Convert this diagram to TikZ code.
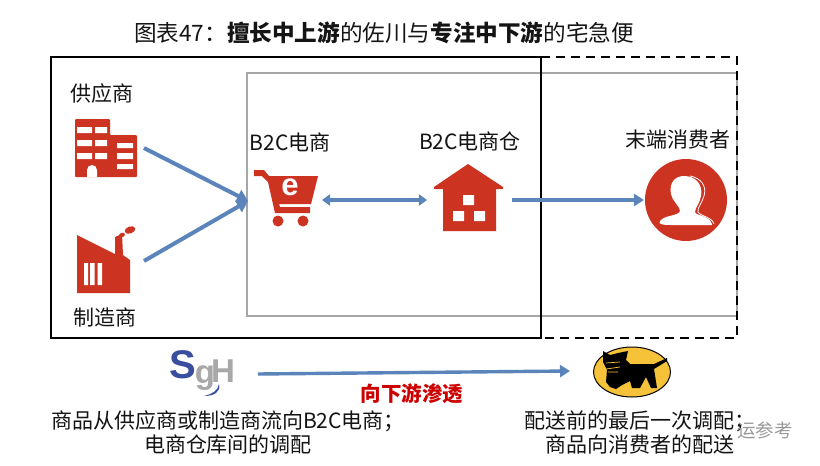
\documentclass[tikz,border=0pt]{standalone}
\usepackage{fontspec}
\setmainfont{Noto Sans CJK SC}
\newfontfamily\latinf{Liberation Sans}
\usetikzlibrary{arrows.meta}
\definecolor{iconred}{HTML}{CC3320}
\definecolor{flow}{HTML}{5B84BA}
\definecolor{sgblue}{HTML}{3A4EA0}
\definecolor{sggray}{HTML}{A8A8A8}
\definecolor{catyellow}{HTML}{F5C23A}
\tikzset{
  x=1pt,y=-1pt,
  lab/.style={font=\fontsize{21}{24}\selectfont,text=black!92,inner sep=0pt,align=center},
  flowarrow/.style={draw=flow,line width=4pt,-{Triangle[length=11pt,width=13pt]}},
}
\begin{document}
\begin{tikzpicture}
\useasboundingbox (0,0) rectangle (820,466);
\fill[white] (0,0) rectangle (820,466);
% frames
\draw[black!35,line width=1.5pt] (247,73) rectangle (737,316);
\draw[black,line width=1.8pt,dash pattern=on 9pt off 6pt] (541,57) -- (737,57) -- (737,338) -- (541,338);
\draw[black,line width=1.8pt] (51,57) rectangle (541,338);
% title
\node[lab,font=\fontsize{22.6}{26}\selectfont] (title) at (384,33) {图表47：\textbf{擅长中上游}的佐川与\textbf{专注中下游}的宅急便};
% labels
\node[lab] (sup) at (102,93.5) {供应商};
\node[lab] (man) at (105,317) {制造商};
\node[lab] (ec) at (290,142) {B2C电商};
\node[lab] (wh) at (470,141) {B2C电商仓};
\node[lab] (cons) at (678,140) {末端消费者};
% building
\fill[iconred,rounded corners=1pt] (75,119) -- (110,119) -- (110,135) -- (137,135) -- (137,177) -- (75,177) -- cycle;
\fill[white] (77,127) rectangle (92,133) (95,127) rectangle (107,133)
 (77,140) rectangle (92,146) (95,140) rectangle (107,146)
 (77,153) rectangle (92,159) (95,153) rectangle (107,159)
 (117,143) rectangle (133,148) (117,153) rectangle (133,159) (117,164) rectangle (133,169);
\fill[white] (87,177) -- (87,170) arc[start angle=180,end angle=360,radius=5] -- (97,177) -- cycle;
% factory
\fill[iconred] (77,235) -- (115,254) -- (115,237) -- (122,234) -- (123,255) -- (130,260) -- (130,293) -- (77,293) -- cycle;
\fill[white] (84,263) rectangle (88,285) (90,263) rectangle (94.5,285) (97.5,263) rectangle (102,285);
\fill[iconred] (130,230) ellipse[x radius=5.5,y radius=3.5,rotate=20];
\fill[iconred] (122,235) ellipse[x radius=3,y radius=2.2,rotate=20];
% cart
\fill[iconred] (254,170) -- (264,170) -- (269,176) -- (318,176) -- (311,204) -- (279,204) -- (280,207) -- (310,207) -- (310,213) -- (275,213) -- (268,182) -- (262,176) -- (254,176) -- cycle;
\fill[iconred] (278,221) circle[radius=5.5] (303,221) circle[radius=5.5];
\node[text=white,inner sep=0,font=\latinf\bfseries\fontsize{31}{31}\selectfont] (e) at (290,187) {e};
% house
\fill[iconred] (468,164) -- (503,187) -- (503,189) -- (496,189) -- (496,231) -- (443,231) -- (443,189) -- (434,189) -- (434,187) -- cycle;
\fill[white] (463,195) rectangle (474,205) (453,211) rectangle (464,221) (474,211) rectangle (485,221);
% consumer
\fill[iconred] (686,200) circle[radius=41];
\fill[white] (684,176) .. controls (697,176) and (703,186) .. (701,196) .. controls (700,203) and (695,208) .. (695,212) .. controls (696,216) and (709,215) .. (712,224) .. controls (713,226) and (711,225) .. (709,225) -- (670,225) .. controls (662,225) and (658,224) .. (660,221) .. controls (664,215) and (679,216) .. (680,211) .. controls (680,206) and (672,201) .. (671,194) .. controls (669,184) and (674,176) .. (684,176) -- cycle;
\draw[white,line width=0.8pt] (690,176) .. controls (701,178) and (707,186) .. (704,196) .. controls (702,203) and (697,208) .. (698,212) .. controls (700,216) and (712,217) .. (714,224);
% flows
\coordinate (a1) at (144,148);
\coordinate (a2) at (144,261);
\coordinate (ah) at (248,201);
\draw[flowarrow] (a1) -- (ah);
\draw[flowarrow] (a2) -- (ah);
\coordinate (b1) at (322,200);
\coordinate (b2) at (427,200);
\draw[draw=flow,line width=3.5pt,{Triangle[length=8pt,width=11pt]}-{Triangle[length=8pt,width=11pt]}] (b1) -- (b2);
\coordinate (c1) at (512,200);
\coordinate (c2) at (644,200);
\draw[draw=flow,line width=4pt,-{Triangle[length=10pt,width=12pt]}] (c1) -- (c2);
% SGH logo
\node[anchor=base west,inner sep=0,font=\latinf\bfseries] (sgh) at (169,378) {\fontsize{40}{40}\selectfont\textcolor{sgblue}{S}\kern-1pt\fontsize{33}{33}\selectfont\raisebox{-5pt}{\textcolor{sggray}{g}}\kern-4pt\raisebox{-4pt}{\textcolor{sggray}{H}}};
\fill[sgblue] (204,396) .. controls (212,394) and (218,391) .. (219,384) .. controls (221,392) and (214,396) .. (204,396) -- cycle;
% Kuroneko logo
\draw[black,line width=1pt,fill=catyellow] (632,372) ellipse[x radius=38.5,y radius=25];
\fill[black] (603,351) -- (610,355) -- (618,353) -- (628,351) -- (626,360) -- (630,364) -- (654,364) -- (667,358) -- (667,361) -- (654,369) -- (657,388) -- (651,388) -- (646,377) -- (640,388) -- (632,388) -- (630,381) -- (622,385) -- (616,389) -- (610,387) -- (606,382) -- (607,370) -- (603,362) -- cycle;
\draw[catyellow,line width=0.7pt] (606,363) -- (620,362) (606,369) -- (620,367) (608,372) -- (618,372);
% penetration arrow
\coordinate (d1) at (258,374);
\coordinate (d2) at (570,371);
\draw[draw=flow,line width=3.4pt,-{Triangle[length=10pt,width=12pt]}] (d1) -- (d2);
\node[inner sep=0,text=red!80!black,font=\fontsize{20.5}{22}\selectfont\bfseries] (pen) at (412,394) {向下游渗透};
% bottom text
\node[lab] (t1) at (228,432) {商品从供应商或制造商流向B2C电商；\\电商仓库间的调配};
\node[lab] (t2) at (640,432) {配送前的最后一次调配；\\商品向消费者的配送};
% legible part of the watermark
\node[inner sep=0,text=black!40,font=\fontsize{18.5}{20}\selectfont] (wm) at (765,430) {运参考};
\end{tikzpicture}
\end{document}
